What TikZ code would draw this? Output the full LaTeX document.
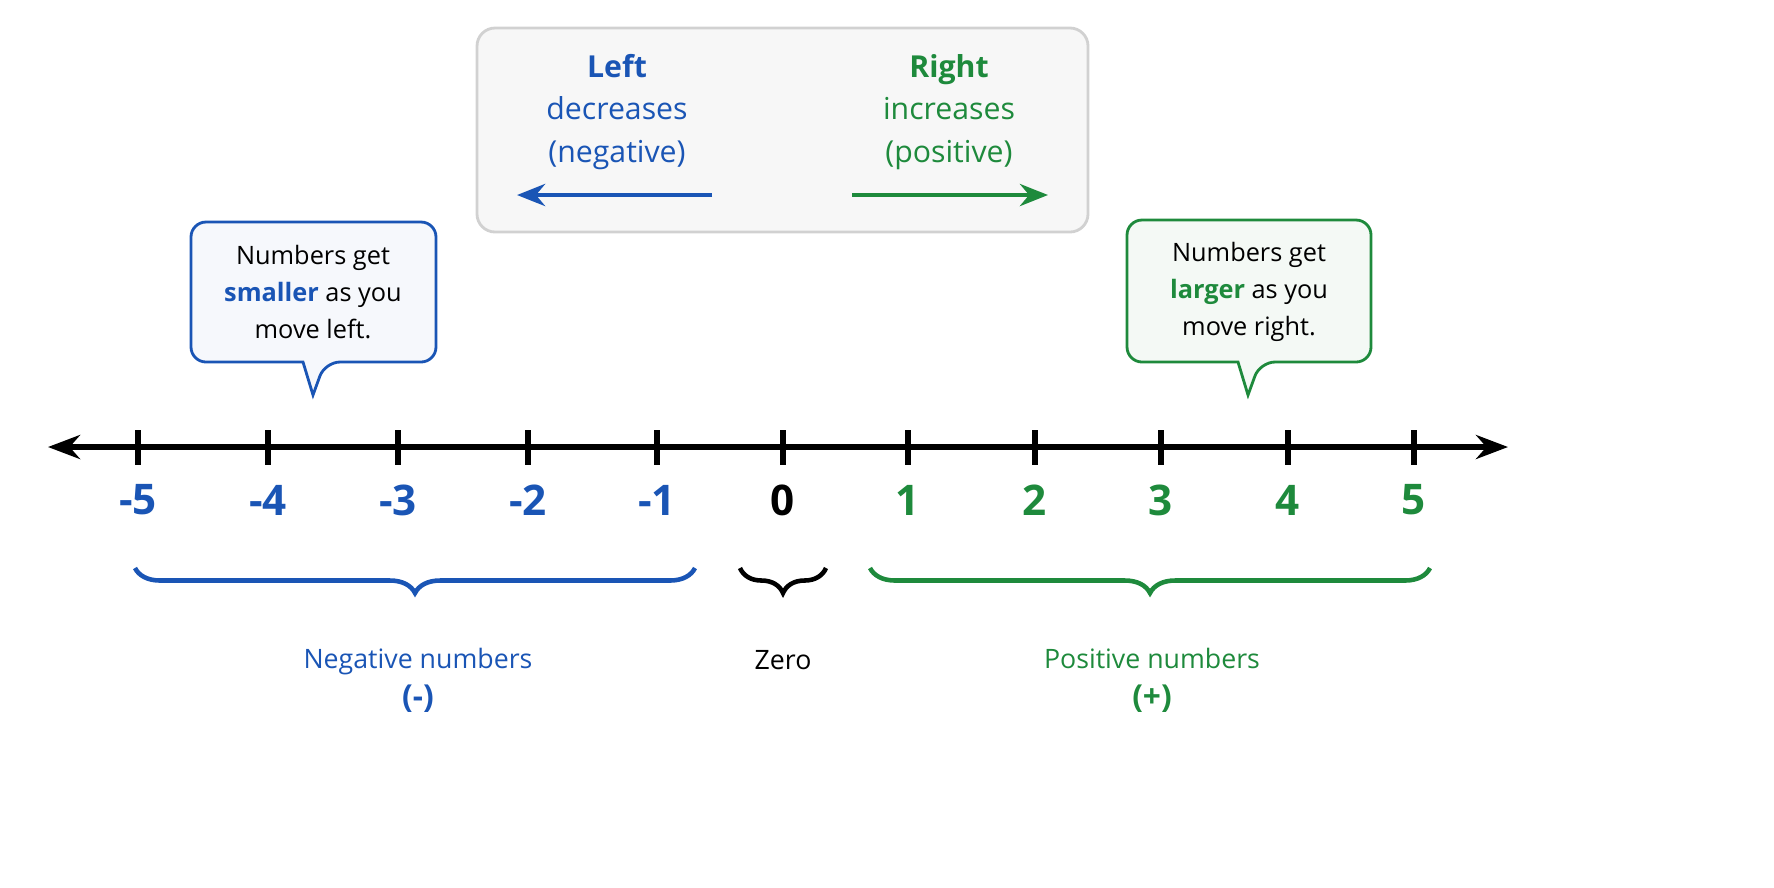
\documentclass[tikz,border=0pt]{standalone}
\usepackage{fontspec}
\setmainfont{Open Sans}
\usetikzlibrary{decorations.pathreplacing,arrows.meta}
\definecolor{nblue}{HTML}{1A55B5}
\definecolor{ngreen}{HTML}{1E8A3C}
\begin{document}
\begin{tikzpicture}[x=0.01cm,y=-0.01cm,
  num/.style={font=\fontsize{12}{14}\selectfont\bfseries},
  lab/.style={font=\fontsize{7.6}{9}\selectfont},
  call/.style={font=\fontsize{7.2}{10.5}\selectfont,align=center},
  top/.style={font=\fontsize{8.6}{12}\selectfont,align=center},
  br/.style={decorate,decoration={brace,mirror,amplitude=0.25cm},line width=1.3pt}]
% top box
\draw[rounded corners=0.18cm,fill=black!3,draw=black!18,line width=0.8pt] (477,28) rectangle (1088,232);
\node[top,text=nblue] (lt) at (617,112) {\textbf{Left}\\decreases\\(negative)};
\node[top,text=ngreen] (rt) at (949,112) {\textbf{Right}\\increases\\(positive)};
\coordinate (la1) at (712,195); \coordinate (la2) at (517,195);
\coordinate (ra1) at (852,195); \coordinate (ra2) at (1048,195);
\draw[nblue,line width=1.4pt,-{Stealth[length=0.28cm,width=0.22cm]}] (la1) -- (la2);
\draw[ngreen,line width=1.4pt,-{Stealth[length=0.28cm,width=0.22cm]}] (ra1) -- (ra2);
% callouts
\draw[nblue,fill=nblue!4,line width=0.8pt,rounded corners=0.15cm] (191,222) -- (436,222) -- (436,362) -- (325,362) [sharp corners]-- (313,395) -- (303,362) [rounded corners=0.15cm]-- (191,362) -- cycle;
\node[call] (cl) at (313,292) {Numbers get\\\textcolor{nblue}{\textbf{smaller}} as you\\move left.};
\draw[ngreen,fill=ngreen!5,line width=0.8pt,rounded corners=0.15cm] (1127,220) -- (1371,220) -- (1371,362) -- (1260,362) [sharp corners]-- (1248,395) -- (1238,362) [rounded corners=0.15cm]-- (1127,362) -- cycle;
\node[call] (cr) at (1249,292) {Numbers get\\\textcolor{ngreen}{\textbf{larger}} as you\\move right.};
% number line
\coordinate (L) at (48,447); \coordinate (R) at (1508,447);
\draw[line width=1.5pt,{Stealth[length=0.32cm,width=0.24cm]}-{Stealth[length=0.32cm,width=0.24cm]}] (L) -- (R);
\foreach \x/\n/\c in {138/-5/nblue,268/-4/nblue,398/-3/nblue,528/-2/nblue,657/-1/nblue,783/0/black,908/1/ngreen,1035/2/ngreen,1161/3/ngreen,1288/4/ngreen,1414/5/ngreen}{
  \draw[line width=1.5pt] (\x,430) -- (\x,465);
  \node[num,text=\c] (n\x) at (\x,500) {\n};
}
% braces
\coordinate (b1) at (135,568); \coordinate (b2) at (695,568);
\coordinate (b3) at (740,568); \coordinate (b4) at (826,568);
\coordinate (b5) at (870,568); \coordinate (b6) at (1430,568);
\draw[br,nblue] (b1) -- (b2);
\draw[br,black] (b3) -- (b4);
\draw[br,ngreen] (b5) -- (b6);
\node[lab,text=nblue,align=center] (neg) at (418,680) {Negative numbers\\[2pt]\fontsize{9}{11}\selectfont\textbf{(-)}};
\node[lab] (zero) at (783,660) {Zero};
\node[lab,text=ngreen,align=center] (pos) at (1152,680) {Positive numbers\\[2pt]\fontsize{9}{11}\selectfont\textbf{(+)}};
\pgfresetboundingbox
\useasboundingbox (0,0) rectangle (1774,887);
\end{tikzpicture}
\end{document}
